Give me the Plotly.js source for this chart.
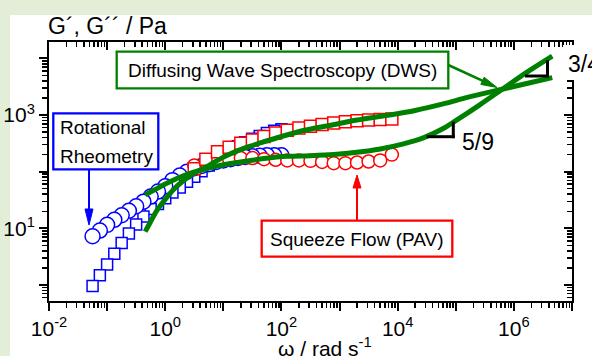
<!DOCTYPE html>
<html>
<head>
<meta charset="utf-8">
<script src="https://cdn.plot.ly/plotly-3.0.1.min.js"></script>
<style>html,body{margin:0;padding:0;background:#e2eed8;}#chart{width:592px;height:356px;}</style>
</head>
<body>
<div id="chart"></div>
<script>
// ---- data ----
// Rotational rheometry (frequency sweep, high -> low)
const rotOmega = [100, 75.0, 56.2, 42.2, 31.6, 23.7, 17.8, 13.3, 10.0, 7.50, 5.62, 4.22, 3.16, 2.37, 1.78, 1.33, 1.00, 0.750, 0.562, 0.422, 0.316, 0.237, 0.178, 0.133, 0.100, 0.0750, 0.0562];
const rotGp  = [562, 525, 479, 427, 380, 331, 282, 240, 200, 162, 129, 102, 81.3, 66.1, 52.5, 42.7, 33.9, 26.9, 21.9, 16.2, 11.7, 8.13, 5.50, 3.55, 2.29, 1.48, 0.955];
const rotGpp = [195, 195, 195, 191, 186, 182, 174, 166, 158, 148, 135, 126, 115, 100, 85.1, 70.8, 55.0, 44.7, 36.3, 29.5, 24.5, 20.4, 17.0, 14.1, 11.5, 9.12, 7.24];
// Squeeze flow (PAV)
const sqOmega = [3.16, 5.01, 7.94, 12.6, 20.0, 31.6, 50.1, 79.4, 126, 200, 316, 501, 794, 1260, 2000, 3160, 5010, 7940];
const sqGp    = [112, 166, 224, 269, 316, 363, 417, 479, 537, 589, 631, 676, 724, 759, 794, 813, 832, 851];
const sqGpp   = [129, 145, 158, 166, 174, 174, 166, 162, 158, 158, 155, 148, 141, 141, 145, 151, 158, 200];
// Diffusing wave spectroscopy (DWS)
const dwsGpOmega = [0.452, 0.562, 0.724, 1.0, 1.38, 2.0, 3.09, 5.01, 7.08, 11.2, 22.4, 44.7, 100, 251, 631, 1995, 6310, 19950, 63100, 158500, 602600, 1738000, 4571000];
const dwsGp      = [8.71, 13.2, 20.9, 32.4, 47.9, 67.6, 93.3, 120, 148, 191, 257, 324, 417, 537, 646, 813, 977, 1202, 1585, 2042, 2818, 3631, 4571];
const dwsGppOmega = [0.452, 0.631, 1.0, 1.58, 2.82, 5.01, 10.0, 22.4, 50.1, 126, 316, 794, 1995, 5012, 12590, 28180, 63100, 100000, 251200, 602600, 1585000, 4571000];
const dwsGpp      = [38.9, 46.8, 60.3, 75.9, 95.5, 112, 132, 151, 170, 186, 191, 200, 219, 251, 309, 398, 589, 794, 1479, 2754, 5495, 10965];
// tick labels
const xTickVals = [1e-2, 1e-1, 1, 10, 100, 1e3, 1e4, 1e5, 1e6, 1e7];
const xTickText = ['10<sup>-2</sup>', '', '10<sup>0</sup>', '', '10<sup>2</sup>', '', '10<sup>4</sup>', '', '10<sup>6</sup>', ''];
const yTickVals = [1, 10, 100, 1000, 10000];
const yTickText = ['', '10<sup>1</sup>', '', '10<sup>3</sup>', ''];
const labels = {
  yTitle: 'G´, G´´ / Pa',
  xTitle: 'ω / rad s<sup>-1</sup>',
  dws: 'Diffusing Wave Spectroscopy (DWS)',
  rot1: 'Rotational', rot2: 'Rheometry',
  sq: 'Squeeze Flow (PAV)',
  s1: '5/9', s2: '3/4'
};

// ---- styling ----
const FONT = 'Liberation Sans, Arial, Helvetica, sans-serif';
const BLUE = '#0000ff', RED = '#ff0000', GREEN = '#008000';
const W = 592, H = 356, ML = 49, MR = 20, MT = 42, MB = 55;
const PW = W - ML - MR, PH = H - MT - MB;
const X = p => (p - ML) / PW;          // pixel -> paper
const Y = p => (H - MB - p) / PH;

function minorVals(d0, d1) {
  const v = [];
  for (let d = d0; d <= d1; d++) for (let k = 2; k <= 9; k++) v.push(k * Math.pow(10, d));
  return v;
}
const xMinor = minorVals(-2, 6), yMinor = minorVals(-1, 4);

const traces = [
  {x: rotOmega, y: rotGp, mode: 'markers', name: "G' rot",
   marker: {symbol: 'square', size: 11, color: 'white', line: {color: BLUE, width: 1.5}}},
  {x: rotOmega, y: rotGpp, mode: 'markers', name: "G'' rot",
   marker: {symbol: 'circle', size: 15, color: 'white', line: {color: BLUE, width: 1.5}}},
  {x: sqOmega, y: sqGpp, mode: 'markers', name: "G'' PAV",
   marker: {symbol: 'circle', size: 13, color: 'white', line: {color: RED, width: 1.5}}},
  {x: sqOmega, y: sqGp, mode: 'markers', name: "G' PAV",
   marker: {symbol: 'square', size: 12, color: 'white', line: {color: RED, width: 1.5}}},
  {x: dwsGpOmega, y: dwsGp, mode: 'lines', name: "G' DWS",
   line: {color: GREEN, width: 5, shape: 'spline', smoothing: 0.8}},
  {x: dwsGppOmega, y: dwsGpp, mode: 'lines', name: "G'' DWS",
   line: {color: GREEN, width: 5, shape: 'spline', smoothing: 0.8}},
  {x: [], y: [], xaxis: 'x2', yaxis: 'y', showlegend: false, hoverinfo: 'skip'},
  {x: [], y: [], xaxis: 'x', yaxis: 'y2', showlegend: false, hoverinfo: 'skip'}
];

const shapes = [];
// white panel on the light green background
shapes.push({type: 'rect', xref: 'paper', yref: 'paper', layer: 'below',
  x0: X(10), x1: X(W + 2), y0: Y(H + 2), y1: Y(15), fillcolor: 'white', line: {width: 0}});
function box(x0, y0, x1, y1, color) {
  shapes.push({type: 'rect', xref: 'paper', yref: 'paper', layer: 'above',
    x0: X(x0), x1: X(x1), y0: Y(y1), y1: Y(y0), fillcolor: 'white', line: {color: color, width: 2.3}});
}
function seg(x0, y0, x1, y1, color, w) {
  shapes.push({type: 'line', xref: 'paper', yref: 'paper', layer: 'above',
    x0: X(x0), y0: Y(y0), x1: X(x1), y1: Y(y1), line: {color: color, width: w}});
}
function arrow(x1, y1, x2, y2, color, w, hl, hw) {
  const dx = x2 - x1, dy = y2 - y1, L = Math.hypot(dx, dy), ux = dx / L, uy = dy / L;
  const bx = x2 - ux * hl, by = y2 - uy * hl, nx = -uy, ny = ux;
  seg(x1, y1, bx + ux, by + uy, color, w);
  shapes.push({type: 'path', xref: 'paper', yref: 'paper', layer: 'above',
    path: 'M' + X(x2) + ',' + Y(y2) + ' L' + X(bx + nx * hw / 2) + ',' + Y(by + ny * hw / 2) +
          ' L' + X(bx - nx * hw / 2) + ',' + Y(by - ny * hw / 2) + ' Z',
    fillcolor: color, line: {color: color, width: 1}});
}
box(116.7, 51.7, 448.3, 88.3, GREEN);
box(53.3, 113.3, 158.3, 169.3, BLUE);
box(261.7, 220.7, 452.3, 256.7, RED);
arrow(448.3, 65, 497, 87.5, GREEN, 2.5, 16, 8);
arrow(89, 169.3, 89, 225, BLUE, 2, 16, 8);
arrow(357, 220.7, 357, 175, RED, 2, 13, 8);
// slope triangles
seg(426.7, 136.7, 454.8, 136.7, 'black', 3);
seg(453.3, 121.7, 453.3, 138.2, 'black', 3);
seg(525, 76, 549, 76, 'black', 3);
seg(547.5, 60, 547.5, 77.5, 'black', 3);
// label background covering the right axis near "3/4"
shapes.push({type: 'rect', xref: 'paper', yref: 'paper', layer: 'above',
  x0: X(563), x1: X(W + 2), y0: Y(80), y1: Y(45), fillcolor: 'white', line: {width: 0}});

function txt(text, x, y, xanchor, size) {
  return {text: text, xref: 'paper', yref: 'paper', x: X(x), y: Y(y), xanchor: xanchor, yanchor: 'middle',
    showarrow: false, font: {family: FONT, size: size, color: 'black'}};
}
const annotations = [
  txt(labels.yTitle, 46, 26, 'left', 23),
  txt(labels.xTitle, 276, 347, 'left', 21),
  txt(labels.dws, 282.5, 70, 'center', 19),
  txt(labels.rot1, 57.5, 127, 'left', 19),
  txt(labels.rot2, 57.5, 156, 'left', 19),
  txt(labels.sq, 357, 239, 'center', 19),
  txt(labels.s1, 459.5, 141.5, 'left', 23),
  txt(labels.s2, 566, 64, 'left', 23)
];

const axCommon = {
  type: 'log', showgrid: false, zeroline: false, showline: true, linecolor: 'black', linewidth: 2,
  tickcolor: 'black', tickwidth: 2, ticklen: 8, tickmode: 'array', fixedrange: true,
  tickfont: {family: FONT, size: 21, color: 'black'}
};
const layout = {
  width: W, height: H,
  margin: {l: ML, r: MR, t: MT, b: MB, pad: 0},
  paper_bgcolor: '#e2eed8', plot_bgcolor: 'white',
  showlegend: false,
  font: {family: FONT, color: 'black'},
  xaxis: Object.assign({}, axCommon, {range: [-2, 7], ticks: 'outside', tickvals: xTickVals, ticktext: xTickText,
    minor: {ticks: 'outside', ticklen: 5, tickwidth: 1.5, tickcolor: 'black', tickmode: 'array', tickvals: xMinor}}),
  yaxis: Object.assign({}, axCommon, {range: [-0.283, 4.288], ticks: 'outside', tickvals: yTickVals, ticktext: yTickText,
    minor: {ticks: 'outside', ticklen: 5, tickwidth: 1.5, tickcolor: 'black', tickmode: 'array', tickvals: yMinor}}),
  xaxis2: Object.assign({}, axCommon, {range: [-2, 7], overlaying: 'x', side: 'top', anchor: 'y', ticks: 'inside',
    tickvals: xTickVals, showticklabels: false,
    minor: {ticks: 'inside', ticklen: 5, tickwidth: 1.5, tickcolor: 'black', tickmode: 'array', tickvals: xMinor}}),
  yaxis2: Object.assign({}, axCommon, {range: [-0.283, 4.288], overlaying: 'y', side: 'right', anchor: 'x', ticks: 'inside',
    tickvals: yTickVals, showticklabels: false,
    minor: {ticks: 'inside', ticklen: 5, tickwidth: 1.5, tickcolor: 'black', tickmode: 'array', tickvals: yMinor}}),
  shapes: shapes,
  annotations: annotations
};
Plotly.newPlot('chart', traces, layout, {displayModeBar: false, staticPlot: true});
</script>
</body>
</html>
